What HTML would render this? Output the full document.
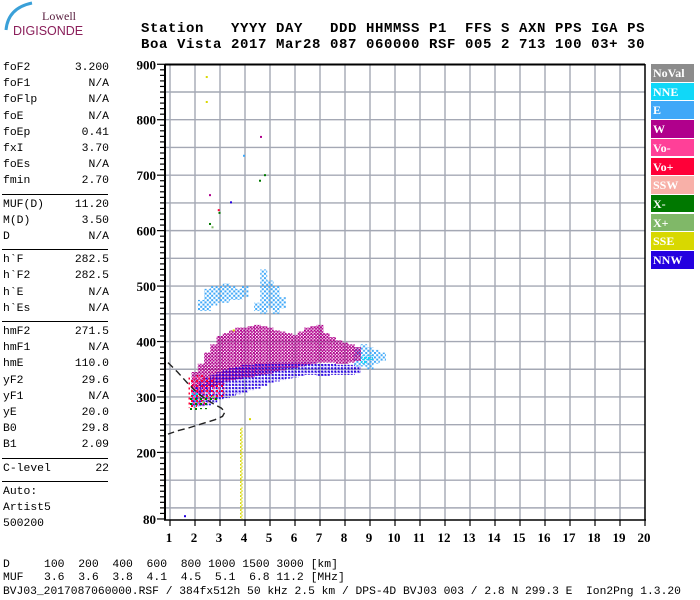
<!DOCTYPE html>
<html><head><meta charset="utf-8">
<style>
body{margin:0;background:#fff;}
#root{position:relative;width:700px;height:600px;overflow:hidden;background:#fff;font-family:"Liberation Mono",monospace;}
.hdr{position:absolute;left:141px;font-family:"Liberation Mono",monospace;font-weight:bold;font-size:14px;letter-spacing:0.6px;white-space:pre;color:#000;}
.row{position:absolute;left:3px;width:106px;font-size:11.4px;height:14px;line-height:14px;color:#000;}
.row .v{position:absolute;right:0;top:0;}
.hr{position:absolute;left:2px;width:106px;height:0;border-top:1.5px solid #000;}
.bot{position:absolute;left:3px;font-size:11.4px;white-space:pre;color:#000;line-height:13px;}
.leg{position:absolute;left:651px;width:43px;height:17.6px;font-family:"Liberation Serif",serif;font-weight:bold;font-size:12px;line-height:18px;color:#fff;padding-left:2px;box-sizing:border-box;}
</style></head><body>
<div id="root">
<svg width="120" height="40" style="position:absolute;left:0;top:0">
<path d="M6 30 Q8 8 32 3" stroke="#3aa0d8" stroke-width="3" fill="none"/>
<text x="42" y="20" font-family="Liberation Serif,serif" font-size="12" fill="#5a2040">Lowell</text>
<text x="13" y="35" font-family="Liberation Sans,sans-serif" font-size="12.5" fill="#8a1e5a">DIGISONDE</text>
</svg>
<div class="hdr" style="top:21px">Station   YYYY DAY   DDD HHMMSS P1  FFS S AXN PPS IGA PS</div>
<div class="hdr" style="top:37px">Boa Vista 2017 Mar28 087 060000 RSF 005 2 713 100 03+ 30</div>
<div id="params"></div>
<div class="bot" style="top:559px">D     100  200  400  600  800 1000 1500 3000 [km]</div>
<div class="bot" style="top:572px">MUF   3.6  3.6  3.8  4.1  4.5  5.1  6.8 11.2 [MHz]</div>
<div class="bot" style="top:586px;font-size:11.3px">BVJ03_2017087060000.RSF / 384fx512h 50 kHz 2.5 km / DPS-4D BVJ03 003 / 2.8 N 299.3 E  Ion2Png 1.3.20</div>
<div id="legend"></div>
<svg id="chart" width="700" height="600" style="position:absolute;left:0;top:0"></svg>
</div>
<script>
// ---- data ----
const xTicks=[1,2,3,4,5,6,7,8,9,10,11,12,13,14,15,16,17,18,19,20];
const yLabels=[80,200,300,400,500,600,700,800,900];
const paramNames=["foF2","foF1","foFlp","foE","foEp","fxI","foEs","fmin","|","MUF(D)","M(D)","D","|","h`F","h`F2","h`E","h`Es","|","hmF2","hmF1","hmE","yF2","yF1","yE","B0","B1","|","C-level","|","Auto:","Artist5","500200"];
const paramVals=["3.200","N/A","N/A","N/A","0.41","3.70","N/A","2.70","","11.20","3.50","N/A","","282.5","282.5","N/A","N/A","","271.5","N/A","110.0","29.6","N/A","20.0","29.8","2.09","","22","","","",""];
const legNames=["NoVal","NNE","E","W","Vo-","Vo+","SSW","X-","X+","SSE","NNW"];
const legColors=["#8c8c8c","#10d8f8","#40a8f8","#b0008c","#ff4098","#ff0038","#f8b0a8","#007800","#80b868","#d8d800","#2400e0"];
// band series: centre freq (MHz), low/high virtual height (km)
const eFreq=[2.0,2.25,2.5,2.75,3.0,3.25,3.5,3.75,4.0,4.5,4.75,5.0,5.25,5.5,8.5,8.75,9.0,9.25,9.5];
const eLow=[282,455,455,465,470,470,475,475,480,455,450,460,450,460,355,355,350,360,365];
const eHigh=[310,475,495,500,500,505,500,495,500,470,530,510,500,480,390,395,390,385,380];
const wFreq=[2.0,2.25,2.5,2.75,3.0,3.25,3.5,3.75,4.0,4.25,4.5,4.75,5.0,5.25,5.5,5.75,6.0,6.25,6.5,6.75,7.0,7.25,7.5,7.75,8.0,8.25,8.5];
const wLow=[305,305,310,318,322,328,330,332,335,335,338,340,342,345,348,350,352,355,358,360,362,362,362,360,360,362,365];
const wHigh=[345,360,380,395,410,415,420,425,425,428,430,428,425,420,418,415,412,418,425,428,430,415,408,402,398,395,390];
const nFreq=[2.0,2.25,2.5,2.75,3.0,3.25,3.5,3.75,4.0,4.25,4.5,4.75,5.0,5.25,5.5,5.75,6.0,6.25,6.5,6.75,7.0,7.25,7.5,7.75,8.0,8.25,8.5];
const nLow=[285,282,285,290,295,298,302,305,308,312,315,320,325,328,330,333,335,338,340,340,338,338,340,340,340,340,342];
const nHigh=[320,328,335,340,345,350,352,355,358,358,360,360,362,362,362,362,362,362,362,362,360,360,360,358,358,358,356];
const cFreq=[2.0,8.75,9.0];
const cLow=[300,360,365];
const cHigh=[312,375,375];
const rFreq=[1.9,2.25,2.6,3.0];
const rLow=[280,285,295,300];
const rHigh=[335,340,335,325];
const pFreq=[2.0,2.4,2.8];
const pLow=[285,290,300];
const pHigh=[340,330,322];
const gFreq=[1.9,2.3,2.7];
const gLow=[275,278,290];
const gHigh=[302,302,300];
const lgFreq=[2.3,2.7];
const lgLow=[290,292];
const lgHigh=[305,305];
const sseFreq=[3.85];
const sseLow=[80];
const sseHigh=[245];
// isolated echoes
const dotF=[2.47,2.47,4.64,3.96,4.8,4.6,2.6,3.44,2.95,2.98,2.6,2.7,4.2,1.6,3.55];
const dotH=[877,832,769,735,700,690,664,651,637,632,612,606,260,85,420];
const dotC=["#d8d800","#d8d800","#b0008c","#40a8f8","#007800","#007800","#b0008c","#2400e0","#ff0038","#007800","#007800","#80b868","#d8d800","#2400e0","#d8d800"];
// profile (dashed line)
const profF=[0.92,1.3,1.7,2.1,2.5,2.8,3.05,3.2,3.1,2.8,2.3,1.8,1.3,0.92];
const profH=[362,345,325,307,294,286,280,273,265,259,252,245,239,233];

// ---- scales ----
const X0=170,DX=25,YTOP=92,HTOP=850,KY=0.5545;
const xs=f=>X0+DX*(f-1);
const ys=h=>YTOP+(HTOP-h)*KY;
const NS="http://www.w3.org/2000/svg";
const svg=document.getElementById('chart');
function mk(t,a,p){const e=document.createElementNS(NS,t);for(const k in a)e.setAttribute(k,a[k]);(p||svg).appendChild(e);return e;}

// params panel
const pp=document.getElementById('params');
let yy=61;
paramNames.forEach((n,i)=>{
  if(n==="|"){const d=document.createElement('div');d.className='hr';d.style.top=(yy+3)+'px';
    
    
    pp.appendChild(d);yy+=7;return;}
  const d=document.createElement('div');d.className='row';d.style.top=yy+'px';
  
  
  d.innerHTML=n+'<span class="v">'+paramVals[i]+'</span>';pp.appendChild(d);yy+=16.2;
});

// legend
const lg=document.getElementById('legend');
legNames.forEach((n,i)=>{const d=document.createElement('div');d.className='leg';
  d.style.top=(64+i*18.7)+'px';d.style.background=legColors[i];d.textContent=n;
  
  
  lg.appendChild(d);});

// grid
const gg=mk('g',{});


for(let h=100;h<=850;h+=50){mk('line',{x1:165,x2:645,y1:ys(h),y2:ys(h),stroke:'#a4a8b4','stroke-width':1.4},gg);}
xTicks.forEach(f=>{if(f<20)mk('line',{x1:xs(f),x2:xs(f),y1:64,y2:520,stroke:'#a4a8b4','stroke-width':1.4},gg);});

// patterns
const defs=mk('defs',{});
function pat(id,col,sz,ox,oy){const p=mk('pattern',{id:id,width:sz,height:sz,patternUnits:'userSpaceOnUse'},defs);
  mk('rect',{x:ox,y:oy,width:2,height:2,fill:col},p);mk('rect',{x:ox+sz/2,y:oy+sz/2,width:2,height:2,fill:col},p);}
pat('pE','#40a8f8',4.4,0,0);pat('pW','#b0008c',3.2,0,0);pat('pN','#2400e0',3.3,1,1);
pat('pC','#10d8f8',4,0,1);pat('pR','#ff0038',5,1,0);pat('pP','#ff4098',5,3,2);
pat('pG','#007800',5,0,3);pat('pLG','#80b868',5,2,1);pat('pS','#d8d800',3.5,0,0);

function bands(name,fr,lo,hi,fill,w){
  const g=mk('g',{});
  
  
  fr.forEach((f,i)=>{
    const r=mk('rect',{x:xs(f)-w/2,y:ys(hi[i]),width:w,height:ys(lo[i])-ys(hi[i]),fill:fill},g);
    
    
  });
}
bands('series-e',eFreq,eLow,eHigh,'url(#pE)',7);
bands('series-w',wFreq,wLow,wHigh,'url(#pW)',7);
bands('series-nnw',nFreq,nLow,nHigh,'url(#pN)',7);
bands('series-nne',cFreq,cLow,cHigh,'url(#pC)',6);
bands('series-vo-plus',rFreq,rLow,rHigh,'url(#pR)',9);
bands('series-vo-minus',pFreq,pLow,pHigh,'url(#pP)',9);
bands('series-x-minus',gFreq,gLow,gHigh,'url(#pG)',9);
bands('series-x-plus',lgFreq,lgLow,lgHigh,'url(#pLG)',9);
bands('series-sse',sseFreq,sseLow,sseHigh,'url(#pS)',2.5);

const dg=mk('g',{});


dotF.forEach((f,i)=>{const r=mk('rect',{x:xs(f)-1,y:ys(dotH[i])-1,width:2,height:2,fill:dotC[i]},dg);
  
  });

// profile
let d='';profF.forEach((f,i)=>{d+=(i?'L':'M')+xs(f).toFixed(1)+' '+ys(profH[i]).toFixed(1);});
const pr=mk('path',{d:d,fill:'none',stroke:'#222','stroke-width':1.4,'stroke-dasharray':'7 4'});



// axes / frame
const ax=mk('g',{});


mk('line',{x1:165,x2:645,y1:64.5,y2:64.5,stroke:'#000','stroke-width':2},ax);
mk('line',{x1:645,x2:645,y1:64,y2:520,stroke:'#000','stroke-width':1.5},ax);
mk('line',{x1:165,x2:165,y1:64,y2:520,stroke:'#000','stroke-width':2},ax);
mk('line',{x1:164,x2:646,y1:520,y2:520,stroke:'#000','stroke-width':1.5},ax);
for(let h=80;h<=900;h+=10){const big=yLabels.includes(h);mk('line',{x1:big?157:160,x2:165,y1:ys(h),y2:ys(h),stroke:'#000','stroke-width':1.2},ax);}
xTicks.forEach(f=>{mk('line',{x1:xs(f),x2:xs(f),y1:520,y2:526,stroke:'#000','stroke-width':1.2},ax);
  const t=mk('text',{x:xs(f)-1,y:542,'text-anchor':'middle','font-family':'Liberation Serif,serif','font-weight':'bold','font-size':13},ax);
  t.textContent=f;
  
  });
yLabels.forEach(h=>{const t=mk('text',{x:156,y:ys(h)+5,'text-anchor':'end','font-family':'Liberation Serif,serif','font-weight':'bold','font-size':13},ax);
  t.textContent=h;
  
  });
</script>
</body></html>
